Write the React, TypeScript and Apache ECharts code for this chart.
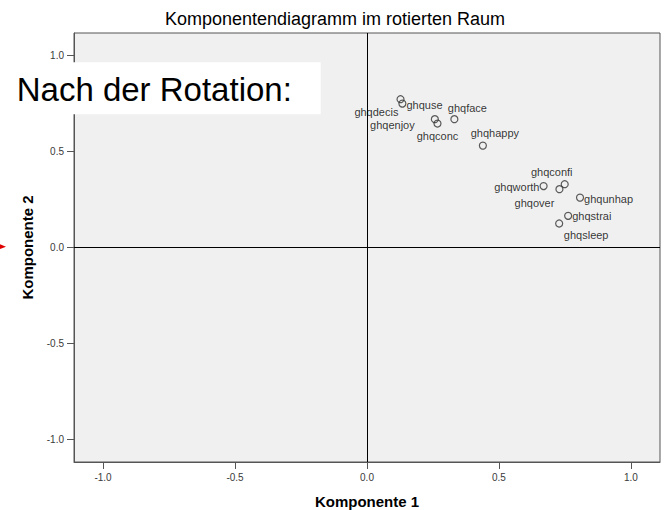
import React, { useEffect, useRef } from "react";
import * as echarts from "echarts";

const variables = [
  "ghqdecis", "ghquse", "ghqenjoy", "ghqconc", "ghqface", "ghqhappy",
  "ghqworth", "ghqconfi", "ghqover", "ghqunhap", "ghqstrai", "ghqsleep",
];
const komponente1 = [0.127, 0.134, 0.257, 0.267, 0.331, 0.439, 0.669, 0.749, 0.729, 0.807, 0.762, 0.728];
const komponente2 = [0.773, 0.75, 0.669, 0.646, 0.669, 0.531, 0.32, 0.33, 0.304, 0.26, 0.165, 0.125];
const tickValues = [-1, -0.5, 0, 0.5, 1];

// label placement per point (style only)
const labelPlacement: Record<string, any> = {
  ghqdecis: { position: "left", distance: 0, offset: [2, 13] },
  ghquse: { position: "right", distance: 0, offset: [0, 1] },
  ghqenjoy: { position: "left", distance: 16, offset: [0, 6] },
  ghqconc: { position: "bottom", distance: 3, offset: [0, 0] },
  ghqface: { position: "top", distance: 2, offset: [13, 0] },
  ghqhappy: { position: "top", distance: 3, offset: [12, 0] },
  ghqworth: { position: "left", distance: 0, offset: [0, 1] },
  ghqconfi: { position: "top", distance: 3, offset: [-13, 0] },
  ghqover: { position: "bottom", distance: 4, offset: [-25, 0] },
  ghqunhap: { position: "right", distance: 0, offset: [0, 1] },
  ghqstrai: { position: "right", distance: 0, offset: [0, 0] },
  ghqsleep: { position: "bottom", distance: 2, offset: [27, 0] },
};

const FONT = "'Liberation Sans', Arial, Helvetica, sans-serif";

export default function App() {
  const ref = useRef<HTMLDivElement>(null);
  useEffect(() => {
    document.body.style.margin = "0";
    if (!ref.current) return;
    const chart = echarts.init(ref.current, null, { renderer: "svg" });
    const data = variables.map((name, i) => ({
      name,
      value: [komponente1[i], komponente2[i]],
      label: { show: true, formatter: name, ...labelPlacement[name] },
    }));
    const axisCommon = {
      type: "value" as const,
      splitLine: { show: false },
      axisLine: { show: true, onZero: false, lineStyle: { color: "#555", width: 1 } },
      axisTick: {
        show: true,
        inside: false,
        length: 7,
        customValues: tickValues,
        lineStyle: { color: "#555", width: 1 },
      },
      axisLabel: {
        show: true,
        customValues: tickValues,
        margin: 10,
        fontSize: 10,
        color: "#3a3a3a",
        fontFamily: FONT,
        formatter: (v: number) => v.toFixed(1),
      },
      nameLocation: "middle" as const,
      nameTextStyle: { fontSize: 15, fontWeight: "bold", color: "#000", fontFamily: FONT },
    };
    chart.setOption({
      animation: false,
      title: {
        text: "Komponentendiagramm im rotierten Raum",
        left: 335,
        top: 10,
        padding: 0,
        textAlign: "center",
        textStyle: { fontSize: 18, fontWeight: "normal", color: "#000", fontFamily: FONT, lineHeight: 18 },
      },
      grid: {
        left: 74,
        right: 4,
        top: 33,
        bottom: 48,
        containLabel: false,
        outerBoundsMode: "none",
        show: true,
        backgroundColor: "#f0f0f0",
        borderColor: "#555",
        borderWidth: 1,
      },
      xAxis: { ...axisCommon, name: "Komponente 1", nameGap: 32, min: -1.11, max: 1.11 },
      yAxis: { ...axisCommon, name: "Komponente 2", nameGap: 39, min: -1.118, max: 1.118 },
      series: [
        {
          type: "scatter",
          symbol: "circle",
          symbolSize: 7,
          itemStyle: { color: "rgba(0,0,0,0)", borderColor: "#333", borderWidth: 1.2 },
          label: { fontSize: 11, color: "#000", fontFamily: FONT },
          data,
          markLine: {
            silent: true,
            symbol: "none",
            label: { show: false },
            lineStyle: { color: "#000", width: 1, type: "solid" },
            data: [{ xAxis: 0 }, { yAxis: 0 }],
          },
        },
      ],
      graphic: [
        {
          type: "rect",
          z: 100,
          shape: { x: 0, y: 62.3, width: 320.7, height: 52 },
          style: { fill: "#fff" },
        },
        {
          type: "text",
          z: 101,
          x: 16.7,
          y: 89.6,
          style: {
            text: "Nach der Rotation:",
            fontSize: 33,
            fontFamily: FONT,
            fill: "#000",
            textVerticalAlign: "middle",
            textAlign: "left",
          },
        },
        {
          type: "polygon",
          z: 101,
          shape: { points: [[0, 244.3], [6, 246.7], [0, 249]] },
          style: { fill: "#e00000" },
        },
      ],
    });
    return () => chart.dispose();
  }, []);
  return <div ref={ref} style={{ width: 664, height: 510 }} />;
}
